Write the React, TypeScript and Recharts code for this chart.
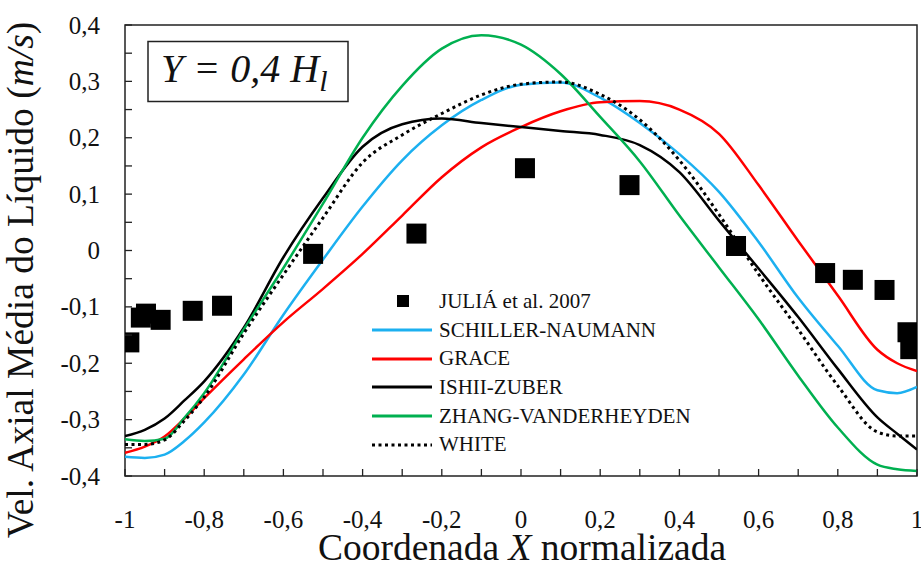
import { ComposedChart, Line, Scatter, XAxis, YAxis, ReferenceArea, Legend, Customized } from 'recharts';

// x positions (normalised X coordinate) where the model curves are sampled
const X_POS = [-1, -0.95, -0.9, -0.85, -0.8, -0.7, -0.6, -0.5, -0.4, -0.3, -0.2, -0.1, 0, 0.1, 0.2, 0.3, 0.4, 0.5, 0.6, 0.7, 0.8, 0.9, 0.95, 1];

const SCHILLER = [-0.366, -0.368, -0.362, -0.338, -0.305, -0.22, -0.114, -0.016, 0.078, 0.16, 0.222, 0.267, 0.294, 0.298, 0.271, 0.226, 0.171, 0.104, 0.015, -0.084, -0.169, -0.248, -0.253, -0.242];
const GRACE = [-0.359, -0.348, -0.33, -0.298, -0.262, -0.193, -0.127, -0.068, -0.006, 0.062, 0.13, 0.183, 0.219, 0.247, 0.263, 0.265, 0.25, 0.207, 0.116, 0.017, -0.08, -0.176, -0.2, -0.214];
const ISHII = [-0.329, -0.318, -0.298, -0.266, -0.232, -0.137, -0.012, 0.093, 0.184, 0.224, 0.234, 0.226, 0.219, 0.212, 0.205, 0.187, 0.139, 0.053, -0.032, -0.118, -0.21, -0.296, -0.325, -0.353];
const ZHANG = [-0.335, -0.338, -0.334, -0.297, -0.253, -0.14, -0.031, 0.083, 0.2, 0.292, 0.358, 0.382, 0.365, 0.313, 0.237, 0.158, 0.062, -0.03, -0.122, -0.222, -0.314, -0.38, -0.388, -0.391];
const WHITE = [-0.344, -0.344, -0.336, -0.302, -0.26, -0.147, -0.043, 0.058, 0.156, 0.205, 0.243, 0.276, 0.295, 0.299, 0.277, 0.232, 0.16, 0.064, -0.042, -0.14, -0.24, -0.322, -0.329, -0.329];

// experimental points (JULIÁ et al. 2007)
const JULIA_X = [-0.989, -0.96, -0.947, -0.91, -0.829, -0.755, -0.525, -0.264, 0.01, 0.274, 0.543, 0.768, 0.838, 0.918, 0.976, 0.983];
const JULIA_Y = [-0.163, -0.119, -0.112, -0.123, -0.107, -0.098, -0.006, 0.03, 0.146, 0.116, 0.008, -0.04, -0.052, -0.07, -0.145, -0.175];

const X_TICKS = [-1, -0.9, -0.8, -0.7, -0.6, -0.5, -0.4, -0.3, -0.2, -0.1, 0, 0.1, 0.2, 0.3, 0.4, 0.5, 0.6, 0.7, 0.8, 0.9, 1];
const Y_TICKS = [-0.4, -0.35, -0.3, -0.25, -0.2, -0.15, -0.1, -0.05, 0, 0.05, 0.1, 0.15, 0.2, 0.25, 0.3, 0.35, 0.4];

const SERIES = [
  { key: 'schiller', name: 'SCHILLER-NAUMANN', color: '#1cb0f0', dash: undefined, values: SCHILLER },
  { key: 'grace', name: 'GRACE', color: '#ff0000', dash: undefined, values: GRACE },
  { key: 'ishii', name: 'ISHII-ZUBER', color: '#000000', dash: undefined, values: ISHII },
  { key: 'zhang', name: 'ZHANG-VANDERHEYDEN', color: '#00b050', dash: undefined, values: ZHANG },
  { key: 'white', name: 'WHITE', color: '#000000', dash: '3 3.5', values: WHITE },
];

const rows = X_POS.map((x, i) => {
  const row: Record<string, number> = { x };
  SERIES.forEach((s) => (row[s.key] = s.values[i]));
  return row;
});
const julia = JULIA_X.map((x, i) => ({ x, julia: JULIA_Y[i] }));

const FONT = '"Liberation Serif", "Times New Roman", serif';
const W = 921;
const H = 567;
const LEFT = 125;
const TOP = 25;
const RIGHT = 917;
const BOTTOM = 476;

const fmt = (v: number) => {
  const r = Math.round(v * 10) / 10;
  if (Number.isInteger(r)) return String(r === 0 ? 0 : r);
  return r.toFixed(1).replace('.', ',');
};

const XTick = (props: any) => {
  const { x, payload } = props;
  const v = payload.value;
  const major = Math.abs(Math.round(v * 10)) % 2 === 0;
  return (
    <g>
      <line x1={x} x2={x} y1={BOTTOM} y2={BOTTOM - 7} stroke="#222" strokeWidth={1.3} />
      {major && (
        <text x={x} y={BOTTOM + 51.5} textAnchor="middle" style={{ fontFamily: FONT }} fontSize={25} fill="#111">
          {fmt(v)}
        </text>
      )}
    </g>
  );
};

const YTick = (props: any) => {
  const { y, payload } = props;
  const v = payload.value;
  const major = Math.abs(Math.round(v * 100)) % 10 === 0;
  return (
    <g>
      <line x1={LEFT} x2={LEFT + 7} y1={y} y2={y} stroke="#222" strokeWidth={1.3} />
      {major && (
        <text x={100} y={y + 8.5} textAnchor="end" style={{ fontFamily: FONT }} fontSize={25} fill="#111">
          {fmt(v)}
        </text>
      )}
    </g>
  );
};

const LegendBox = () => (
  <div style={{ fontFamily: FONT, fontSize: 21, color: '#111' }}>
    <div style={{ display: 'flex', alignItems: 'center', height: 28.7 }}>
      <svg width={60} height={14}>
        <rect x={25} y={1} width={12} height={12} fill="#000" />
      </svg>
      <span style={{ marginLeft: 7, whiteSpace: 'nowrap' }}>JULIÁ et al. 2007</span>
    </div>
    {SERIES.map((s) => (
      <div key={s.key} style={{ display: 'flex', alignItems: 'center', height: 28.7 }}>
        <svg width={60} height={6}>
          <line x1={0} x2={60} y1={3} y2={3} stroke={s.color} strokeWidth={3} strokeDasharray={s.dash} />
        </svg>
        <span style={{ marginLeft: 7, whiteSpace: 'nowrap' }}>{s.name}</span>
      </div>
    ))}
  </div>
);

const Overlay = () => (
  <g style={{ fontFamily: FONT }} fill="#111">
    <text transform="rotate(-90)" x={-280} y={33} textAnchor="middle" fontSize={37.5}>
      Vel. Axial Média do Líquido (<tspan fontStyle="italic">m/s</tspan>)
    </text>
    <text x={522} y={560} textAnchor="middle" fontSize={37.5}>
      Coordenada <tspan fontStyle="italic">X</tspan> normalizada
    </text>
    <rect x={148} y={41.5} width={200} height={60} fill="#fff" stroke="#222" strokeWidth={1.5} />
    <text x={161} y={82} fontSize={40} fontStyle="italic">
      Y = 0,4 H<tspan fontSize={30} dy={9}>l</tspan>
    </text>
  </g>
);

const Square = (props: any) => {
  const { cx, cy } = props;
  return <rect x={cx - 10} y={cy - 10} width={20} height={20} fill="#000" />;
};

export default function App() {
  return (
    <div style={{ position: 'absolute', left: 0, top: 0, width: W, height: H, background: '#fff' }}>
      <ComposedChart
        width={W}
        height={H}
        data={rows}
        margin={{ top: TOP, right: W - RIGHT, bottom: H - BOTTOM - 60, left: LEFT - 60 }}
      >
        <XAxis
          dataKey="x"
          type="number"
          domain={[-1, 1]}
          ticks={X_TICKS}
          interval={0}
          tick={XTick}
          tickLine={false}
          axisLine={false}
          height={60}
          allowDataOverflow
        />
        <YAxis
          type="number"
          domain={[-0.4, 0.4]}
          ticks={Y_TICKS}
          interval={0}
          tick={YTick}
          tickLine={false}
          axisLine={false}
          width={60}
          allowDataOverflow
        />
        <ReferenceArea x1={-1} x2={1} y1={-0.4} y2={0.4} fill="none" stroke="#222" strokeWidth={1.5} ifOverflow="visible" />
        {SERIES.map((s) => (
          <Line
            key={s.key}
            type="monotone"
            dataKey={s.key}
            stroke={s.color}
            strokeWidth={s.dash ? 3 : 2.5}
            strokeDasharray={s.dash}
            dot={false}
            isAnimationActive={false}
          />
        ))}
        <Scatter data={julia} dataKey="julia" shape={Square} isAnimationActive={false} />
        <Legend
          layout="horizontal"
          verticalAlign="middle"
          align="center"
          content={LegendBox}
          wrapperStyle={{ left: 372, top: 287, width: 320 }}
        />
        <Customized component={Overlay} />
      </ComposedChart>
    </div>
  );
}
